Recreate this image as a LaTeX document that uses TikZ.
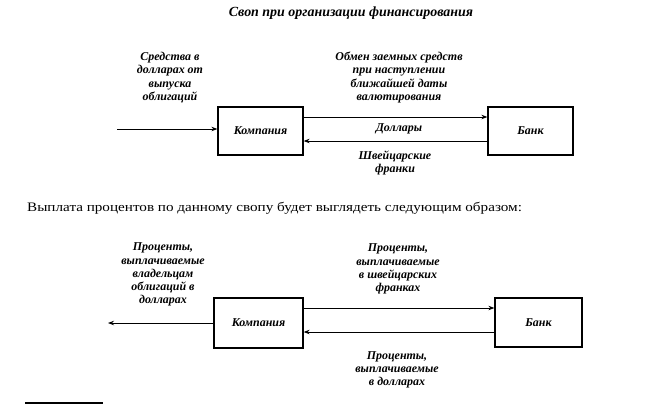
\documentclass[tikz,border=0pt]{standalone}
\usepackage{fontspec}
\setmainfont{Liberation Serif}
\newfontfamily\txtfont[FakeStretch=1.17]{Liberation Serif}
\usetikzlibrary{arrows.meta}
\newcommand{\labfont}{\fontsize{12}{13.2}\selectfont\bfseries\itshape}
\tikzset{
  box/.style={draw, line width=1.3pt, inner sep=0pt, font=\labfont},
  lab/.style={align=center, inner sep=0pt, font=\labfont},
  arr/.style={line width=0.8pt, -{Stealth[length=6pt,width=4.5pt]}}
}
\begin{document}
\begin{tikzpicture}[x=1bp, y=-1bp]
\useasboundingbox (0,0) rectangle (655,405);
% title
\node[lab, font=\fontsize{14}{16}\selectfont\bfseries\itshape] (title) at (351,13) {Своп при организации финансирования};
% top diagram
\node[box, minimum width=85bp, minimum height=48bp] (c1) at (260.5,131) {Компания};
\node[box, minimum width=85bp, minimum height=48bp] (b1) at (530.5,131) {Банк};
\coordinate (in1) at (117,129);
\draw[arr] (in1) -- (c1.west |- in1);
\draw[arr] ([yshift=14bp]c1.east) -- ([yshift=14bp]b1.west);
\draw[arr] ([yshift=-10bp]b1.west) -- ([yshift=-10bp]c1.east);
\node[lab] (l1) at (170,77.5) {Средства в\\долларах от\\выпуска\\облигаций};
\node[lab] (l2) at (399,77.5) {Обмен заемных средств\\при наступлении\\ближайшей даты\\валютирования};
\node[lab] (l3) at (399,129) {Доллары};
\node[lab] (l4) at (395,163) {Швейцарские\\франки};
% text line
\node[anchor=west, inner sep=0pt, font=\txtfont\fontsize{13}{15}\selectfont] (txt) at (27,208) {Выплата процентов по данному свопу будет выглядеть следующим образом:};
% bottom diagram
\node[box, minimum width=89bp, minimum height=50bp] (c2) at (258.5,323) {Компания};
\node[box, minimum width=87bp, minimum height=49bp] (b2) at (538.5,322.5) {Банк};
\coordinate (out2) at (108,323);
\draw[arr] (c2.west |- out2) -- (out2);
\draw[arr] ([yshift=15bp]c2.east) -- ([yshift=15bp]c2.east -| b2.west);
\draw[arr] ([yshift=-9bp]c2.east -| b2.west) -- ([yshift=-9bp]c2.east);
\node[lab] (l5) at (163,274.5) {Проценты,\\выплачиваемые\\владельцам\\облигаций в\\долларах};
\node[lab] (l6) at (398,269) {Проценты,\\выплачиваемые\\в швейцарских\\франках};
\node[lab] (l7) at (397,370) {Проценты,\\выплачиваемые\\в долларах};
% footnote rule
\coordinate (r1) at (25,403);
\coordinate (r2) at (103,403);
\draw[line width=1.2pt] (r1) -- (r2);
\end{tikzpicture}
\end{document}
